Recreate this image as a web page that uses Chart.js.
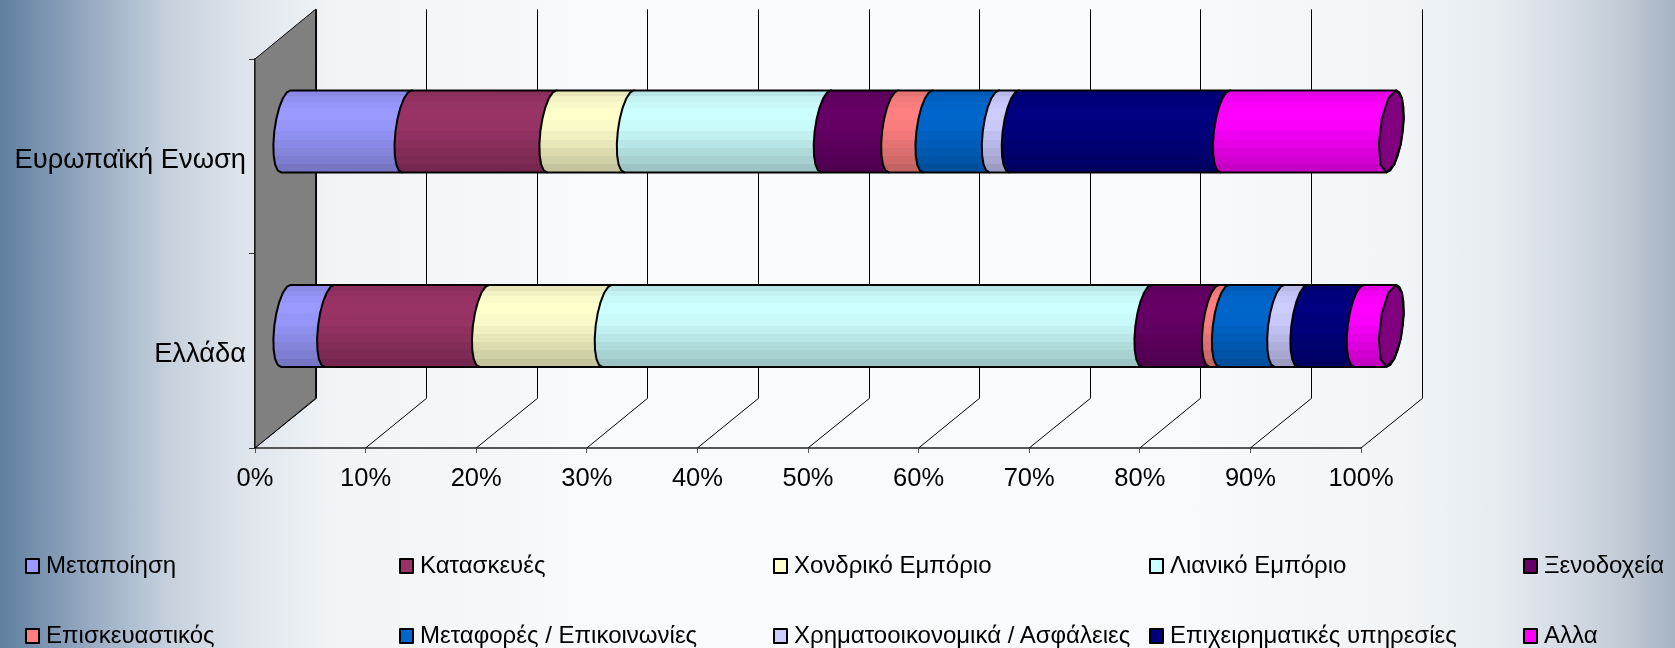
<!DOCTYPE html>
<html lang="el">
<head>
<meta charset="utf-8">
<title>Κλαδική κατανομή</title>
<script src="https://cdn.jsdelivr.net/npm/chart.js@4"></script>
<style>
    html, body { margin: 0; padding: 0; width: 1675px; height: 648px; overflow: hidden; }
    body {
        position: relative;
        background: linear-gradient(90deg, #5f7f9f 0, #7f97b3 50px, #a3b4c9 110px, #c6d1dd 170px, #dde3ea 240px, #f0f4f7 330px, #f8fafd 600px, #f9fafd 1150px, #f1f5f8 1400px, #e6ebef 1500px, #d3dae3 1570px, #c0cad5 1625px, #a6b3c2 1675px);
        font-family: "Liberation Sans", Arial, sans-serif;
    }
    #chart { position: absolute; left: 0; top: 0; }
    .legend-item { position: absolute; height: 30px; line-height: 30px; font-size: 24px; color: #000; white-space: nowrap; }
    .legend-item i { position: absolute; left: 0; top: 8px; width: 11px; height: 12px; border: 2px solid #000; border-radius: 1px; }
    .legend-item span { position: absolute; left: 21px; top: 0; }
</style>
</head>
<body>
<canvas id="chart" width="1675" height="648"></canvas>
<div id="legend"></div>
<script>
    const categories = ['Ευρωπαϊκή Ενωση', 'Ελλάδα'];
    const sectors = ['Μεταποίηση', 'Κατασκευές', 'Χονδρικό Εμπόριο', 'Λιανικό Εμπόριο', 'Ξενοδοχεία',
        'Επισκευαστικός', 'Μεταφορές / Επικοινωνίες', 'Χρηματοοικονομικά / Ασφάλειες', 'Επιχειρηματικές υπηρεσίες', 'Αλλα'];
    const euValues = [11.0, 13.1, 7.0, 17.8, 6.1, 3.1, 6.0, 1.8, 19.1, 15.0];
    const greeceValues = [4.0, 14.0, 11.1, 48.8, 6.1, 0.9, 5.0, 2.1, 5.1, 2.9];
    const colors = ['#9999ff', '#993366', '#ffffcc', '#ccffff', '#660066', '#ff8080', '#0066cc', '#ccccff', '#000080', '#ff00ff'];
    const capColor = '#800080';

    // depth of the fake 3D box, in pixels
    const depthX = 60.6;
    const depthY = 49.7;
    const capRadius = 11.5;
    const capSkew = 4.8;
    const shade = [[0, .9], [.07, .95], [.14, .98], [.22, 1], [.36, .98], [.5, .94], [.6, .9], [.7, .86], [.8, .82], [.9, .77], [1, .75]];

    function shadeColor(hex, f) {
        const n = parseInt(hex.slice(1), 16);
        const r = Math.round((n >> 16 & 255) * f);
        const g = Math.round((n >> 8 & 255) * f);
        const b = Math.round((n & 255) * f);
        return `rgb(${r},${g},${b})`;
    }

    function bandGradient(ctx, color, top, bottom) {
        const g = ctx.createLinearGradient(0, top, 0, bottom);
        shade.forEach((s, i) => {
            g.addColorStop(s[0], shadeColor(color, s[1]));
            if (i < shade.length - 1) g.addColorStop(shade[i + 1][0] - 0.001, shadeColor(color, s[1]));
        });
        return g;
    }

    // walk the slanted end ellipse between two angles
    function traceHalf(ctx, cx, cy, ry, from, to) {
        const steps = 10;
        for (let i = 0; i <= steps; i++) {
            const t = from + (to - from) * i / steps;
            ctx.lineTo(cx + capRadius * Math.cos(t) - capSkew * Math.sin(t), cy + ry * Math.sin(t));
        }
    }

    const wallPlugin = {
        id: 'wall',
        beforeDatasetsDraw(chart) {
            const ctx = chart.ctx;
            const area = chart.chartArea;
            const x = chart.scales.x;
            ctx.save();
            // gridlines on back wall and floor
            ctx.strokeStyle = '#000';
            ctx.lineWidth = 1;
            x.ticks.forEach(t => {
                const px = x.getPixelForValue(t.value);
                const backX = Math.round(px + depthX) + 0.5;
                ctx.beginPath();
                ctx.moveTo(px, area.bottom);
                ctx.lineTo(backX, area.bottom - depthY);
                ctx.lineTo(backX, area.top - depthY);
                ctx.stroke();
            });
            // side wall
            ctx.fillStyle = '#808080';
            ctx.beginPath();
            ctx.moveTo(area.left, area.top);
            ctx.lineTo(area.left + depthX, area.top - depthY);
            ctx.lineTo(area.left + depthX, area.bottom - depthY);
            ctx.lineTo(area.left, area.bottom);
            ctx.closePath();
            ctx.fill();
            ctx.stroke();
            ctx.restore();

            // cylinder pieces, first dataset first so the next one covers its end
            chart.data.datasets.forEach((ds, i) => {
                chart.getDatasetMeta(i).data.forEach(bar => drawPiece(ctx, bar, colors[i], i === chart.data.datasets.length - 1));
            });
        },
        beforeDatasetDraw() {
            return false;
        }
    };

    function drawPiece(ctx, bar, color, isLast) {
        const x0 = bar.base + depthX / 2;
        const x1 = bar.x + depthX / 2;
        const cy = bar.y - depthY / 2;
        const ry = bar.height / 2;
        ctx.save();
        ctx.lineWidth = 2;
        ctx.lineJoin = 'round';
        ctx.strokeStyle = '#000';
        ctx.fillStyle = bandGradient(ctx, color, cy - ry, cy + ry);
        ctx.beginPath();
        // left bulge of start, then along the bottom, then back up the end
        traceHalf(ctx, x0, cy, ry, -Math.PI / 2, -3 * Math.PI / 2);
        traceHalf(ctx, x1, cy, ry, Math.PI / 2, -Math.PI / 2);
        ctx.closePath();
        ctx.fill();
        ctx.stroke();
        if (isLast) {
            ctx.fillStyle = capColor;
            ctx.beginPath();
            traceHalf(ctx, x1, cy, ry, -Math.PI / 2, 3 * Math.PI / 2);
            ctx.closePath();
            ctx.fill();
            ctx.stroke();
        }
        ctx.restore();
    }

    new Chart(document.getElementById('chart'), {
        type: 'bar',
        data: {
            labels: categories,
            datasets: sectors.map((name, i) => ({
                label: name,
                data: [euValues[i], greeceValues[i]],
                backgroundColor: colors[i],
                barThickness: 82
            }))
        },
        plugins: [wallPlugin],
        options: {
            indexAxis: 'y',
            responsive: false,
            animation: false,
            layout: { padding: { top: 59, right: 314 } },
            plugins: { legend: { display: false }, tooltip: { enabled: false } },
            scales: {
                x: {
                    stacked: true,
                    min: 0,
                    max: 100,
                    afterFit(scale) { scale.height = 200; },
                    border: { color: '#555', width: 2 },
                    grid: { drawOnChartArea: false, color: '#555', tickLength: 5 },
                    ticks: {
                        stepSize: 10,
                        color: '#000',
                        padding: 11,
                        maxRotation: 0,
                        font: { family: '"Liberation Sans"', size: 25.5 },
                        callback: v => v + '%'
                    }
                },
                y: {
                    stacked: true,
                    afterFit(scale) { scale.width = 255; },
                    border: { color: '#333', width: 2 },
                    grid: { drawOnChartArea: false, color: '#333', tickLength: 6, offset: true },
                    ticks: {
                        color: '#000',
                        padding: 3,
                        labelOffset: 4,
                        font: { family: '"Liberation Sans"', size: 27.3 }
                    }
                }
            }
        }
    });

    // legend: two rows of five fixed columns
    const legendDiv = document.getElementById('legend');
    const legendCols = [25, 399, 773, 1149, 1523];
    const legendRows = [550, 620];
    sectors.forEach((name, i) => {
        const item = document.createElement('div');
        item.className = 'legend-item';
        item.style.left = legendCols[i % 5] + 'px';
        item.style.top = legendRows[Math.floor(i / 5)] + 'px';
        item.innerHTML = `<i style="background:${colors[i]}"></i><span>${name}</span>`;
        legendDiv.appendChild(item);
    });
</script>
</body>
</html>
